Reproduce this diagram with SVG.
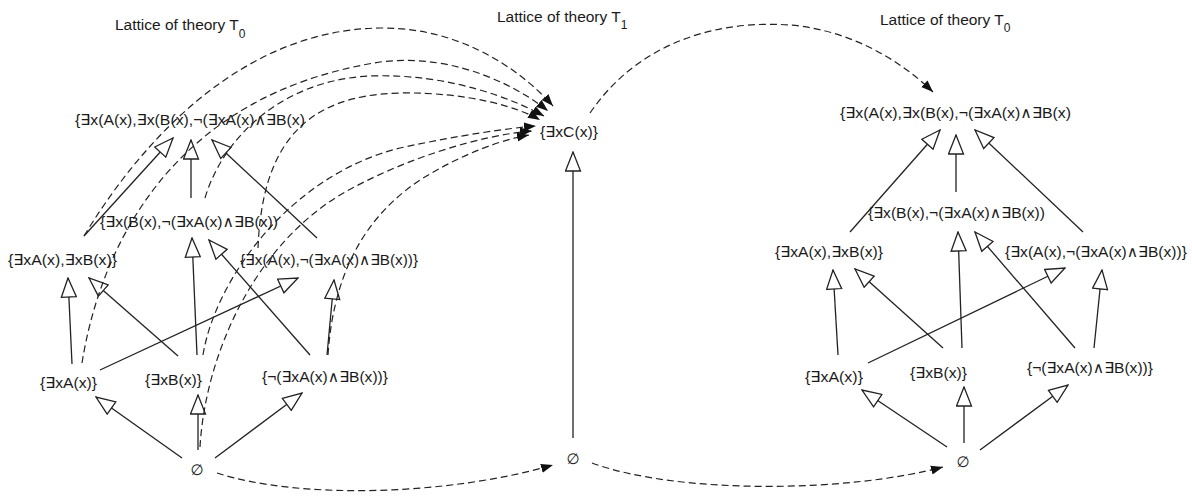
<svg xmlns="http://www.w3.org/2000/svg" width="1192" height="496" viewBox="0 0 1192 496">
<style>
text{font-family:"Liberation Sans",Arial,"DejaVu Sans",sans-serif;font-size:15px;fill:#1a1a1a}
.ttl{font-size:15.5px}
.sub{font-size:12px}
.s{fill:none;stroke:#222;stroke-width:1.3;marker-end:url(#hollow)}
.d{fill:none;stroke:#222;stroke-width:1.2;stroke-dasharray:7 4;marker-end:url(#solid)}
</style>
<defs>
<marker id="hollow" markerUnits="userSpaceOnUse" viewBox="0 0 21 17" refX="20" refY="8.5" markerWidth="21" markerHeight="17" orient="auto">
<path d="M1,1 L20,8.5 L1,16 Z" fill="#fff" stroke="#222" stroke-width="1.3"/>
</marker>
<marker id="solid" markerUnits="userSpaceOnUse" viewBox="0 0 13 10" refX="12" refY="5" markerWidth="13" markerHeight="10" orient="auto">
<path d="M0,0.5 L12,5 L0,9.5 Z" fill="#111"/>
</marker>
</defs>
<rect width="1192" height="496" fill="#fff"/>

<g id="titles">
<text class="ttl" x="115" y="30">Lattice of theory T<tspan class="sub" dy="8">0</tspan></text>
<text class="ttl" x="497" y="22">Lattice of theory T<tspan class="sub" dy="7">1</tspan></text>
<text class="ttl" x="880" y="25">Lattice of theory T<tspan class="sub" dy="7">0</tspan></text>
</g>

<g id="connectors">
<!-- left lattice -->
<path class="s" d="M84,236 L173,138"/>
<path class="s" d="M191,198 L191,140"/>
<path class="s" d="M317,238 L212,140"/>
<path class="s" d="M197,355 L192,238"/>
<path class="s" d="M310,355 L209,240"/>
<path class="s" d="M72,364 L68,278"/>
<path class="s" d="M178,356 L89,278"/>
<path class="s" d="M100,370 L298,278"/>
<path class="s" d="M327,355 L334,280"/>
<path class="s" d="M182,458 L96,397"/>
<path class="s" d="M198,450 L198,395"/>
<path class="s" d="M215,458 L302,393"/>
<!-- center -->
<path class="s" d="M573,438 L573,152"/>
<!-- right lattice -->
<path class="s" d="M850,232 L940,130"/>
<path class="s" d="M956,192 L956,135"/>
<path class="s" d="M1083,232 L975,130"/>
<path class="s" d="M962,348 L958,232"/>
<path class="s" d="M1075,348 L975,232"/>
<path class="s" d="M838,355 L833,270"/>
<path class="s" d="M943,348 L855,269"/>
<path class="s" d="M868,363 L1065,268"/>
<path class="s" d="M1094,348 L1102,270"/>
<path class="s" d="M947,447 L862,390"/>
<path class="s" d="M964,443 L964,387"/>
<path class="s" d="M980,450 L1068,385"/>
<!-- dashed mappings T0 -> T1 -->
<path class="d" d="M84,236 C130,160 230,30 380,28 C470,27 530,80 553,106"/>
<path class="d" d="M82,363 C100,250 170,95 380,62 C460,52 525,92 548,111"/>
<path class="d" d="M205,198 C222,140 280,80 370,76 C450,73 515,100 544,116"/>
<path class="d" d="M258,248 C262,150 300,95 400,93 C470,92 520,108 540,120"/>
<path class="d" d="M203,355 C215,280 290,175 400,148 C460,135 510,128 536,126"/>
<path class="d" d="M200,447 C205,360 250,250 340,195 C400,160 480,135 532,131"/>
<path class="d" d="M328,355 C333,280 360,220 420,180 C460,155 500,140 529,135"/>
<path class="d" d="M217,473 C300,500 450,495 553,465"/>
<!-- dashed mappings T1 -> T0 -->
<path class="d" d="M592,463 C680,495 850,492 943,467"/>
<path class="d" d="M590,113 C640,40 720,20 790,25 C850,30 900,60 933,92"/>
</g>

<g id="left-top"><text x="75" y="125" textLength="230" lengthAdjust="spacingAndGlyphs">{∃x(A(x),∃x(B(x),¬(∃xA(x)∧∃B(x)</text></g>
<g id="left-b-neg"><text x="100" y="227" textLength="178" lengthAdjust="spacingAndGlyphs">{∃x(B(x),¬(∃xA(x)∧∃B(x))</text></g>
<g id="left-a-b"><text x="8" y="265" textLength="109" lengthAdjust="spacingAndGlyphs">{∃xA(x),∃xB(x)}</text></g>
<g id="left-a-neg"><text x="240" y="265" textLength="178" lengthAdjust="spacingAndGlyphs">{∃x(A(x),¬(∃xA(x)∧∃B(x))}</text></g>
<g id="left-a"><text x="40" y="388" textLength="57" lengthAdjust="spacingAndGlyphs">{∃xA(x)}</text></g>
<g id="left-b"><text x="145" y="385" textLength="57" lengthAdjust="spacingAndGlyphs">{∃xB(x)}</text></g>
<g id="left-neg"><text x="262" y="382" textLength="126" lengthAdjust="spacingAndGlyphs">{¬(∃xA(x)∧∃B(x))}</text></g>
<g id="left-empty"><text x="197" y="475" text-anchor="middle">∅</text></g>

<g id="center-c"><text x="540" y="137" textLength="58" lengthAdjust="spacingAndGlyphs">{∃xC(x)}</text></g>
<g id="center-empty"><text x="573" y="464" text-anchor="middle">∅</text></g>

<g id="right-top"><text x="840" y="118" textLength="231" lengthAdjust="spacingAndGlyphs">{∃x(A(x),∃x(B(x),¬(∃xA(x)∧∃B(x)</text></g>
<g id="right-b-neg"><text x="868" y="218" textLength="177" lengthAdjust="spacingAndGlyphs">{∃x(B(x),¬(∃xA(x)∧∃B(x))</text></g>
<g id="right-a-b"><text x="775" y="257" textLength="108" lengthAdjust="spacingAndGlyphs">{∃xA(x),∃xB(x)}</text></g>
<g id="right-a-neg"><text x="1005" y="257" textLength="182" lengthAdjust="spacingAndGlyphs">{∃x(A(x),¬(∃xA(x)∧∃B(x))}</text></g>
<g id="right-a"><text x="805" y="382" textLength="58" lengthAdjust="spacingAndGlyphs">{∃xA(x)}</text></g>
<g id="right-b"><text x="910" y="378" textLength="57" lengthAdjust="spacingAndGlyphs">{∃xB(x)}</text></g>
<g id="right-neg"><text x="1027" y="373" textLength="126" lengthAdjust="spacingAndGlyphs">{¬(∃xA(x)∧∃B(x))}</text></g>
<g id="right-empty"><text x="963" y="467" text-anchor="middle">∅</text></g>
</svg>
